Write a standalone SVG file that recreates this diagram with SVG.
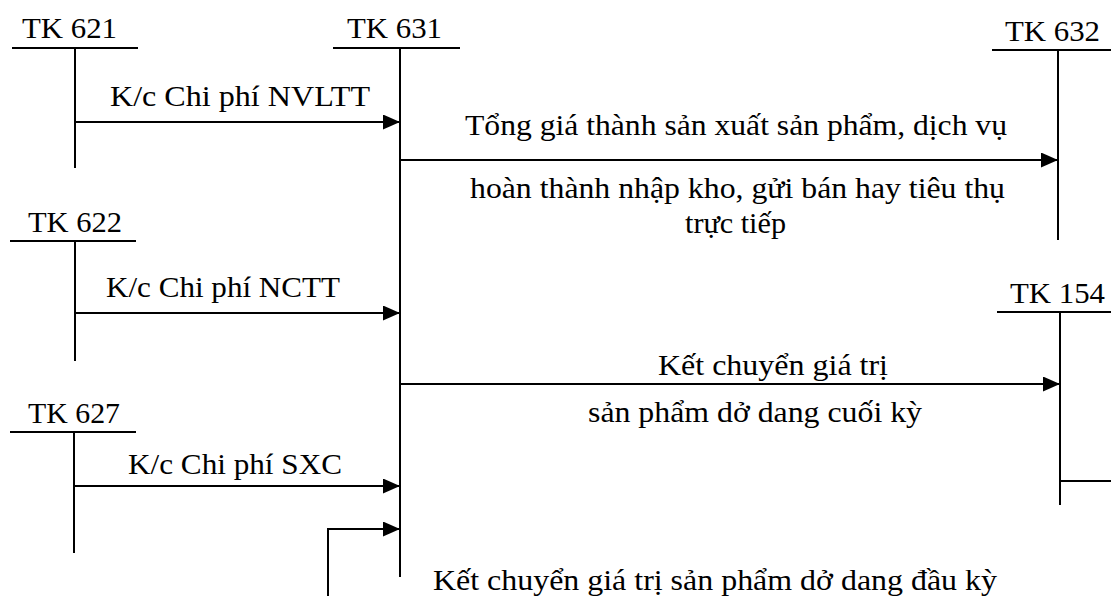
<svg xmlns="http://www.w3.org/2000/svg" width="1111" height="596" viewBox="0 0 1111 596" font-family="'Liberation Serif', 'Times New Roman', Tinos, 'DejaVu Serif', serif" font-size="30">
  <defs>
    <marker id="arrow" markerWidth="17" markerHeight="15" refX="17" refY="7.5" orient="auto" markerUnits="userSpaceOnUse">
      <path d="M0,0 L17,7.5 L0,15 Z" fill="#000"/>
    </marker>
  </defs>
  <style>
    text { fill: #000; }
    .t { stroke: #000; stroke-width: 2; fill: none; }
    .c { stroke: #000; stroke-width: 2; fill: none; marker-end: url(#arrow); }
  </style>
  <rect width="1111" height="596" fill="#fff"/>

  <!-- T-accounts -->
  <g id="tk621">
    <text x="22" y="38" textLength="95" lengthAdjust="spacingAndGlyphs">TK 621</text>
    <path class="t" d="M12,48 H138 M75,48 V168"/>
  </g>
  <g id="tk631">
    <text x="347" y="38" textLength="95" lengthAdjust="spacingAndGlyphs">TK 631</text>
    <path class="t" d="M333,48 H460 M400,48 V577"/>
  </g>
  <g id="tk632">
    <text x="1005" y="41" textLength="95" lengthAdjust="spacingAndGlyphs">TK 632</text>
    <path class="t" d="M992,50 H1111 M1058,50 V240"/>
  </g>
  <g id="tk622">
    <text x="28" y="232" textLength="94" lengthAdjust="spacingAndGlyphs">TK 622</text>
    <path class="t" d="M10,241 H136 M75,241 V361"/>
  </g>
  <g id="tk154">
    <text x="1010" y="303" textLength="95" lengthAdjust="spacingAndGlyphs">TK 154</text>
    <path class="t" d="M997,312 H1111 M1060,312 V505 M1060,481 H1111"/>
  </g>
  <g id="tk627">
    <text x="28" y="423" textLength="92" lengthAdjust="spacingAndGlyphs">TK 627</text>
    <path class="t" d="M10,432 H136 M74,432 V553"/>
  </g>

  <!-- Transfers -->
  <g id="connectors">
    <path class="c" d="M75,122 H400"/>
    <path class="c" d="M400,160 H1058"/>
    <path class="c" d="M75,313 H400"/>
    <path class="c" d="M400,384 H1060"/>
    <path class="c" d="M74,486 H400"/>
    <path class="c" d="M328,596 V529 H400"/>
  </g>

  <!-- Labels -->
  <g id="labels">
    <text x="110" y="106" textLength="260" lengthAdjust="spacingAndGlyphs">K/c Chi phí NVLTT</text>
    <text x="465" y="135" textLength="542" lengthAdjust="spacingAndGlyphs">Tổng giá thành sản xuất sản phẩm, dịch vụ</text>
    <text x="470" y="198" textLength="535" lengthAdjust="spacingAndGlyphs">hoàn thành nhập kho, gửi bán hay tiêu thụ</text>
    <text x="685" y="233" textLength="101" lengthAdjust="spacingAndGlyphs">trực tiếp</text>
    <text x="106" y="297" textLength="234" lengthAdjust="spacingAndGlyphs">K/c Chi phí NCTT</text>
    <text x="658" y="375" textLength="230" lengthAdjust="spacingAndGlyphs">Kết chuyển giá trị</text>
    <text x="588" y="422" textLength="334" lengthAdjust="spacingAndGlyphs">sản phẩm dở dang cuối kỳ</text>
    <text x="128" y="474" textLength="214" lengthAdjust="spacingAndGlyphs">K/c Chi phí SXC</text>
    <text x="433" y="590" textLength="564" lengthAdjust="spacingAndGlyphs">Kết chuyển giá trị sản phẩm dở dang đầu kỳ</text>
  </g>
</svg>
